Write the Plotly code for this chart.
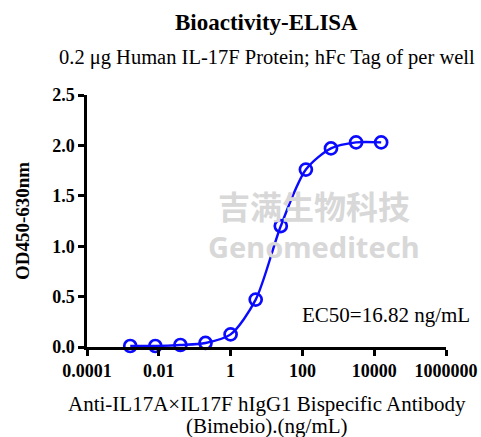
import plotly.graph_objects as go

conc = [0.0016, 0.008, 0.04, 0.2, 1, 5, 25, 125, 625, 3125, 15625]
od = [0.01, 0.01, 0.02, 0.04, 0.125, 0.47, 1.20, 1.76, 1.97, 2.03, 2.03]
xtick_vals = [0.0001, 0.01, 1, 100, 10000, 1000000]
xtick_text = ["0.0001", "0.01", "1", "100", "10000", "1000000"]
ytick_vals = [0.0, 0.5, 1.0, 1.5, 2.0, 2.5]
ytick_text = ["0.0", "0.5", "1.0", "1.5", "2.0", "2.5"]

SERIF = "Liberation Serif"
BLUE = "#0a0aff"

fig = go.Figure()
fig.add_trace(go.Scatter(
    x=conc, y=od, mode="lines+markers",
    line=dict(color=BLUE, width=2.4, shape="spline", smoothing=0.8),
    marker=dict(symbol="circle-open", size=12, color=BLUE, line=dict(width=2.7, color=BLUE)),
    showlegend=False, cliponaxis=False,
))

def ann(text, x, y, size, bold=False, family=SERIF, color="black", **kw):
    d = dict(text=text, xref="paper", yref="paper", x=x, y=y, showarrow=False,
             xanchor=kw.pop("xanchor", "center"), yanchor=kw.pop("yanchor", "middle"),
             font=dict(family=family, size=size, color=color, weight="bold" if bold else "normal"))
    d.update(kw)
    return d

fig.update_layout(
    width=481, height=437,
    margin=dict(l=87, r=35, t=95, b=90, autoexpand=False),
    paper_bgcolor="white", plot_bgcolor="white",
    font=dict(family=SERIF, color="black"),
    xaxis=dict(
        type="log", range=[-4, 6], automargin=False,
        tickvals=xtick_vals, ticktext=["<b>%s</b>" % t for t in xtick_text],
        showgrid=False, zeroline=False,
        showline=True, linecolor="black", linewidth=2.5,
        ticks="outside", ticklen=6, tickwidth=2.5, tickcolor="black",
        tickfont=dict(family=SERIF, size=18, color="black"),
    ),
    yaxis=dict(
        range=[0, 2.5], automargin=False,
        tickvals=ytick_vals, ticktext=["<b>%s</b>" % t for t in ytick_text],
        showgrid=False, zeroline=False,
        showline=True, linecolor="black", linewidth=2.5,
        ticks="outside", ticklen=6, tickwidth=2.5, tickcolor="black",
        tickfont=dict(family=SERIF, size=18, color="black"),
    ),
    annotations=[
        ann("吉满生物科技", 0.632, 0.563, 32, bold=True, family="Noto Sans CJK SC", color="#d8d8d8"),
        ann("Genomeditech", 0.632, 0.397, 29, bold=True, family="Noto Sans", color="#d8d8d8"),
        ann("Bioactivity-ELISA", 0.5, 1.0, 23, bold=True, yshift=73),
        ann("0.2 μg Human IL-17F Protein; hFc Tag of per well", 0.5, 1.0, 20.5, yshift=38),
        ann("EC50=16.82 ng/mL", 1.072, 0.127, 21, xanchor="right"),
        ann("OD450-630nm", -0.181, 0.5, 19, bold=True, textangle=-90),
        ann("Anti-IL17A×IL17F hIgG1 Bispecific Antibody", 0.5, 0.0, 21, yshift=-57),
        ann("(Bimebio).(ng/mL)", 0.5, 0.0, 21, yshift=-79),
    ],
)

fig.write_html("out.html", config={"displayModeBar": False},
               post_script="document.body.style.margin='0';document.body.style.overflow='hidden';")
